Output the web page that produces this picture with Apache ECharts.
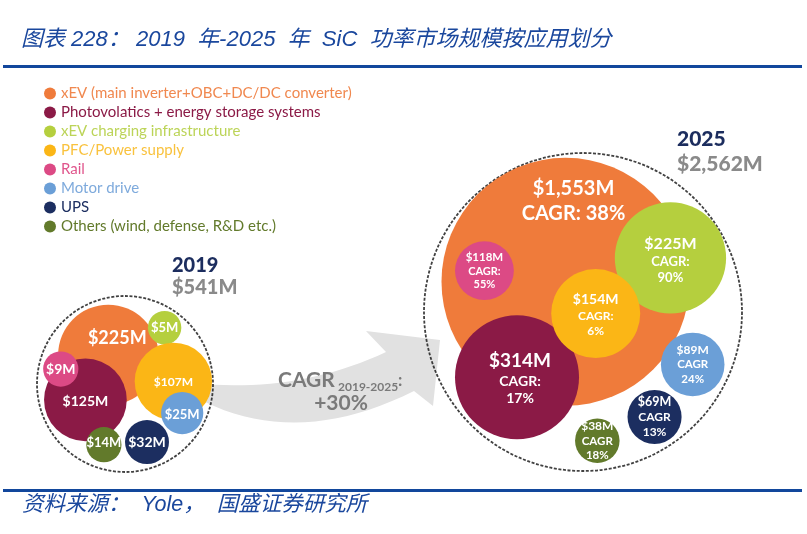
<!DOCTYPE html>
<html>
<head>
<meta charset="utf-8">
<script src="https://cdn.jsdelivr.net/npm/echarts@6/dist/echarts.min.js"></script>
<style>
  html, body { margin: 0; padding: 0; background: #fff; }
  #chart { width: 807px; height: 534px; }
</style>
</head>
<body>
<div id="chart"></div>
<script>
// 数据
var categories = [
    'xEV (main inverter+OBC+DC/DC converter)',
    'Photovolatics + energy storage systems',
    'xEV charging infrastructure',
    'PFC/Power supply',
    'Rail',
    'Motor drive',
    'UPS',
    'Others (wind, defense, R&D etc.)'
];
var values2019 = [225, 125, 5, 107, 9, 25, 32, 14];
var values2025 = [1553, 314, 225, 154, 118, 89, 69, 38];
var cagr2025 = [38, 17, 90, 6, 55, 24, 13, 18];
var total2019 = 541;
var total2025 = 2562;
var cagrTotal = 30;

// 颜色
var colors = ['#ef7b3b', '#8b1a46', '#b5cf3e', '#fbb616', '#dc4a85', '#6b9fd7', '#1c2e60', '#627a2b'];
var textColors = ['#f0884f', '#8b1a46', '#bcd458', '#f9c23e', '#e0558c', '#7eaadc', '#1c2e60', '#627a2b'];

// 气泡布局：相对虚线圆的圆心位置和半径 [x, y, r]
var layout2019 = [
    [-0.19, -0.33, 0.57], [-0.45, 0.18, 0.47], [0.45, -0.64, 0.19], [0.55, -0.03, 0.44],
    [-0.73, -0.17, 0.20], [0.65, 0.33, 0.24], [0.25, 0.66, 0.25], [-0.24, 0.69, 0.20]
];
var layout2025 = [
    [-0.11, -0.19, 0.78], [-0.415, 0.41, 0.39], [0.55, -0.34, 0.35], [0.08, 0.01, 0.28],
    [-0.62, -0.26, 0.185], [0.69, 0.33, 0.20], [0.45, 0.66, 0.17], [0.09, 0.81, 0.14]
];
// 标签字号 [金额, CAGR]
var fonts2019 = [18, 14, 13, 12, 14, 13, 14, 13];
var fonts2025 = [[20, 20], [19, 14], [16, 13], [14, 12], [11.5, 11], [12, 11.5], [12.5, 12], [12, 11.5]];
var cagrSep = [': ', ':\n', ':\n', ':\n', ':\n', '\n', '\n', '\n'];
var offset2019 = [[9, -17], [0, 2], [0, 0], [0, 1], [0, 0], [0, 2], [0, 0], [0, -2]];
var offset2025 = [[8, -81], [3, 1], [0, 2], [0, 1], [0, 0], [0, 0], [0, 0], [0, 0]];

var R2019 = 88, R2025 = 159;
var FONT = 'Lato, "Open Sans", sans-serif';

function money(v) {
    return '$' + v.toString().replace(/\B(?=(\d{3})+(?!\d))/g, ',') + 'M';
}

// 二次曲线取点，用于画弯箭头
function quad(p0, c, p1, n) {
    var pts = [];
    for (var k = 0; k <= n; k++) {
        var t = k / n, u = 1 - t;
        pts.push([u * u * p0[0] + 2 * u * t * c[0] + t * t * p1[0],
                  u * u * p0[1] + 2 * u * t * c[1] + t * t * p1[1]]);
    }
    return pts;
}
var arrowPts = quad([205, 384], [300, 392], [386, 352], 20)
    .concat([[366, 331], [440, 340], [433, 406], [414, 391]])
    .concat(quad([414, 391], [300, 448], [205, 402], 20).slice(1));

var chart = echarts.init(document.getElementById('chart'));

var ringStyle = { color: 'rgba(255,255,255,0)', borderColor: '#111', borderWidth: 1.8, borderType: [3, 1.6] };
var series = [];
// 虚线外圈
series.push({
    type: 'scatter', xAxisIndex: 0, yAxisIndex: 0, silent: true, z: 1,
    data: [[0, 0]], symbolSize: R2019 * 2, itemStyle: ringStyle
});
series.push({
    type: 'scatter', xAxisIndex: 1, yAxisIndex: 1, silent: true, z: 1,
    data: [[0, 0]], symbolSize: R2025 * 2, itemStyle: ringStyle
});

categories.forEach(function (name, i) {
    var p = layout2019[i];
    series.push({
        name: name, type: 'scatter', xAxisIndex: 0, yAxisIndex: 0, z: 2,
        data: [[p[0], p[1], values2019[i]]],
        symbolSize: p[2] * 2 * R2019,
        itemStyle: { color: colors[i], opacity: 1 },
        label: {
            show: true, position: 'inside', offset: offset2019[i],
            color: '#fff', fontWeight: 'bold', fontFamily: FONT, fontSize: fonts2019[i],
            formatter: function (d) { return money(d.value[2]); }
        }
    });
});

categories.forEach(function (name, i) {
    var p = layout2025[i];
    series.push({
        name: name, type: 'scatter', xAxisIndex: 1, yAxisIndex: 1, z: 2,
        data: [[p[0], p[1], values2025[i]]],
        symbolSize: p[2] * 2 * R2025,
        itemStyle: { color: colors[i], opacity: 1 },
        label: {
            show: true, position: 'inside', offset: offset2025[i],
            color: '#fff', fontWeight: 'bold', fontFamily: FONT,
            formatter: function (d) {
                return '{v|' + money(d.value[2]) + '}\n{c|CAGR' + cagrSep[i].replace('\n', '}\n{c|') + cagr2025[i] + '%}';
            },
            rich: {
                v: { color: '#fff', fontWeight: 'bold', fontFamily: FONT, fontSize: fonts2025[i][0], lineHeight: fonts2025[i][0] * 1.25 },
                c: { color: '#fff', fontWeight: 'bold', fontFamily: FONT, fontSize: fonts2025[i][1], lineHeight: fonts2025[i][1] * 1.25 }
            }
        }
    });
});

var axisOff = { type: 'value', min: -1, max: 1, show: false };
var titleFont = 'italic 22px "Liberation Sans", "Noto Sans CJK SC", sans-serif';

var option = {
    backgroundColor: '#fff',
    animation: false,
    grid: [
        { left: 125 - R2019, top: 384 - R2019, width: R2019 * 2, height: R2019 * 2 },
        { left: 583 - R2025, top: 312 - R2025, width: R2025 * 2, height: R2025 * 2 }
    ],
    xAxis: [
        Object.assign({ gridIndex: 0 }, axisOff),
        Object.assign({ gridIndex: 1 }, axisOff)
    ],
    yAxis: [
        Object.assign({ gridIndex: 0, inverse: true }, axisOff),
        Object.assign({ gridIndex: 1, inverse: true }, axisOff)
    ],
    legend: {
        orient: 'vertical', left: 39, top: 81,
        icon: 'circle', itemWidth: 12, itemHeight: 12, itemGap: 4,
        textStyle: { fontFamily: FONT, fontSize: 15 },
        data: categories.map(function (n, i) {
            return { name: n, itemStyle: { color: colors[i] }, textStyle: { color: textColors[i] } };
        })
    },
    graphic: [
        // 标题
        { type: 'text', x: 21, y: 40, z: 100,
          style: { text: '图表 228： 2019  年-2025  年  SiC  功率市场规模按应用划分', fill: '#1a479d', font: titleFont, verticalAlign: 'middle' } },
        { type: 'rect', shape: { x: 3, y: 65, width: 799, height: 3 }, style: { fill: '#12479c' } },
        { type: 'rect', shape: { x: 3, y: 489, width: 799, height: 3 }, style: { fill: '#12479c' } },
        { type: 'text', x: 22, y: 505, z: 100,
          style: { text: '资料来源：  Yole，  国盛证券研究所', fill: '#1a479d', font: 'italic 21.5px "Liberation Sans", "Noto Sans CJK SC", sans-serif', verticalAlign: 'middle' } },
        // 箭头
        { type: 'polygon', z: -10, shape: { points: arrowPts }, style: { fill: '#e1e1e1' } },
        { type: 'text', x: 278, y: 380, z: 100,
          style: { text: 'CAGR', fill: '#7a7a7a', font: 'bold 21px ' + FONT, verticalAlign: 'middle' } },
        { type: 'text', x: 338, y: 387, z: 100,
          style: { text: '2019-2025', fill: '#7a7a7a', font: 'bold 12px ' + FONT, verticalAlign: 'middle' } },
        { type: 'text', x: 398, y: 381, z: 100,
          style: { text: ':', fill: '#7a7a7a', font: 'bold 17px ' + FONT, verticalAlign: 'middle' } },
        { type: 'text', x: 341, y: 403, z: 100,
          style: { text: '+' + cagrTotal + '%', fill: '#7a7a7a', font: 'bold 21px ' + FONT, align: 'center', verticalAlign: 'middle' } },
        // 年份与总额
        { type: 'text', x: 172, y: 266, z: 100,
          style: { text: '2019', fill: '#1c2d5e', font: '900 20px ' + FONT, verticalAlign: 'middle' } },
        { type: 'text', x: 172, y: 288, z: 100,
          style: { text: money(total2019), fill: '#8a8a8a', font: '900 20px ' + FONT, verticalAlign: 'middle' } },
        { type: 'text', x: 677, y: 139, z: 100,
          style: { text: '2025', fill: '#1c2d5e', font: '900 21px ' + FONT, verticalAlign: 'middle' } },
        { type: 'text', x: 677, y: 164, z: 100,
          style: { text: money(total2025), fill: '#8a8a8a', font: '900 21px ' + FONT, verticalAlign: 'middle' } }
    ],
    series: series
};

chart.setOption(option);
</script>
</body>
</html>
